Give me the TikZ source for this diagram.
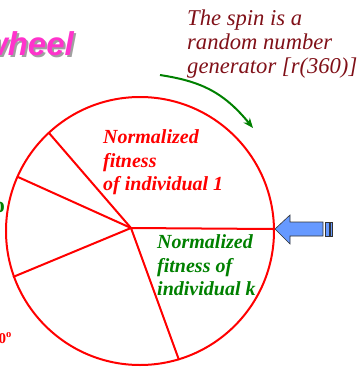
\documentclass[tikz,border=0pt]{standalone}
\usepackage{fontspec}
\setmainfont{Liberation Serif}
\newfontfamily\arialfont{Liberation Sans}
\usetikzlibrary{arrows.meta}
\definecolor{wheelred}{RGB}{255,0,0}
\definecolor{spinred}{RGB}{128,16,24}
\definecolor{fitgreen}{RGB}{0,128,0}
\definecolor{titlemag}{RGB}{255,51,204}
\definecolor{shadowgray}{RGB}{160,160,160}
\definecolor{arrowblue}{RGB}{102,153,255}
\tikzset{
  wheelline/.style={draw=wheelred, line width=2pt},
  spintext/.style={font=\itshape\fontsize{22.6}{25}\selectfont, text=spinred, anchor=base west, inner sep=0pt},
  fitredtext/.style={font=\bfseries\itshape\fontsize{20}{24}\selectfont, text=wheelred, anchor=base west, inner sep=0pt},
  fitgreentext/.style={font=\bfseries\itshape\fontsize{20}{24}\selectfont, text=fitgreen, anchor=base west, inner sep=0pt},
  titletext/.style={font=\arialfont\bfseries\itshape\fontsize{33}{36}\selectfont, anchor=base east, inner sep=0pt},
  blockarrow/.style={fill=arrowblue, draw=black!80, line width=0.6pt, line join=miter},
}
\begin{document}
\begin{tikzpicture}[x=1pt,y=-1pt]
\useasboundingbox (0,0) rectangle (361,370);
\clip (0,0) rectangle (361,370);

% title fragment with shadow
\node[titletext, text=shadowgray] (titleshadow) at (76,57) {wheel};
\node[titletext, text=titlemag] (title) at (74,55) {wheel};

% partial glyphs at left edge
\node[font=\bfseries\fontsize{22}{24}\selectfont, text=fitgreen, anchor=base east, inner sep=0pt] (greeno) at (5,212) {o};
\node[font=\bfseries\fontsize{15}{17}\selectfont, text=wheelred, anchor=base east, inner sep=0pt] (redo) at (12,343) {0\textsuperscript{o}};

% spin text
\node[spintext] (s1) at (187,25) {The spin is a};
\node[spintext] (s2) at (187,49) {random number};
\node[spintext] (s3) at (187,73) {generator [r(360)]};

% wheel
\coordinate (c) at (140,231);
\coordinate (hub) at (131,228);
\coordinate (p1) at (49,133);
\coordinate (p2) at (18,177);
\coordinate (p3) at (13,277);
\coordinate (p4) at (179,360);
\coordinate (p5) at (273,229);
\draw[wheelline] (c) circle[radius=134pt];
\draw[wheelline] (hub) -- (p1);
\draw[wheelline] (hub) -- (p2);
\draw[wheelline] (hub) -- (p3);
\draw[wheelline] (hub) -- (p4);
\draw[wheelline] (hub) -- (p5);

% segment labels
\node[fitredtext] (r1) at (103,143) {Normalized};
\node[fitredtext] (r2) at (103,167) {fitness};
\node[fitredtext] (r3) at (103,190) {of individual 1};
\node[fitgreentext] (g1) at (157,248) {Normalized};
\node[fitgreentext] (g2) at (157,272) {fitness of};
\node[fitgreentext] (g3) at (157,295) {individual k};

% spin arrow
\coordinate (sa) at (160,75);
\coordinate (sb) at (253,128);
\draw[draw=fitgreen, line width=2pt, -{Stealth[length=10pt,width=8pt]}]
  (sa) .. controls (198,81) and (222,90) .. (sb);

% pointer block arrow
\draw[blockarrow] (275,229) -- (290,215) -- (290,222) -- (323,222) -- (323,236) -- (290,236) -- (290,244) -- cycle;
\draw[blockarrow] (325,222) rectangle (329,236);
\draw[blockarrow] (330,222) rectangle (332,236);
\end{tikzpicture}
\end{document}
